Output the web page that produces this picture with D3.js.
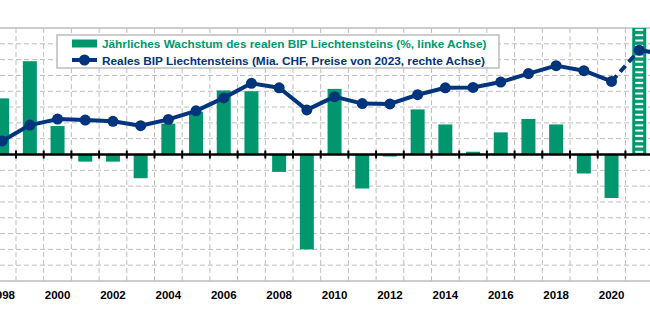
<!DOCTYPE html>
<html>
<head>
<meta charset="utf-8">
<script src="https://cdn.jsdelivr.net/npm/d3@7"></script>
<style>
  body { margin: 0; background: #fff; }
  svg { display: block; font-family: "Liberation Sans", Arial, sans-serif; }
</style>
</head>
<body>
<svg id="chart" width="650" height="325"></svg>
<script>
// annual growth (%, left axis) and real GDP (bn CHF, 2023 prices, right axis)
const years = d3.range(1998, 2023);
const growth = [7.1, 11.8, 3.6, -0.9, -0.9, -3.0, 3.9, 5.4, 8.1, 8.0, -2.2, -12.0, 8.3, -4.3, -0.25,
                5.7, 3.8, 0.35, 2.8, 4.5, 3.8, -2.4, -5.5, 18.6];
const gdp = [4.43, 4.93, 5.12, 5.09, 5.05, 4.91, 5.11, 5.38, 5.79, 6.25, 6.11, 5.41, 5.83, 5.61, 5.60,
             5.89, 6.11, 6.12, 6.29, 6.56, 6.81, 6.65, 6.31, 7.30, 7.16];
const yearLabels = d3.range(1998, 2021, 2);
const legendLabels = ["Jährliches Wachstum des realen BIP Liechtensteins (%, linke Achse)",
                      "Reales BIP Liechtensteins (Mia. CHF, Preise von 2023, rechte Achse)"];

const green = "#00976f", navy = "#00347c", grid = "#bdbdbd";
const plotTop = 28, plotBottom = 281;

var svg = d3.select("#chart");
var x = d3.scaleLinear().domain([1998, 2021]).range([2.15, 639.25]);
var step = x(1999) - x(1998), barW = 14;
var yL = d3.scaleLinear().domain([-16, 16]).range([plotBottom, plotTop]);
var yR = d3.scaleLinear().domain([0, 8]).range([plotBottom, plotTop]);

svg.append("clipPath").attr("id", "plotclip")
  .append("rect").attr("x", 0).attr("y", plotTop).attr("width", 650).attr("height", plotBottom - plotTop);

// hatch fill for the last (provisional) year
var lastX = x(2021) - barW / 2;
var pat = svg.append("defs").append("pattern").attr("id", "hatch")
  .attr("patternUnits", "userSpaceOnUse").attr("x", lastX).attr("y", yL(0))
  .attr("width", barW).attr("height", 5.3);
pat.append("rect").attr("width", barW).attr("height", 5.3).attr("fill", green);
pat.append("rect").attr("x", 3).attr("y", 1.6).attr("width", barW - 6).attr("height", 2).attr("fill", "#fff");

//------------- grid
var g = svg.append("g");
g.selectAll(".hgrid").data(d3.range(-14, 16, 2).filter(d => d != 0)).join("line")
  .attr("x1", 0).attr("x2", 650).attr("y1", d => yL(d)).attr("y2", d => yL(d))
  .attr("stroke", grid).attr("stroke-dasharray", "5,3");
g.selectAll(".vgrid").data(years).join("line")
  .attr("x1", d => x(d) - step / 2).attr("x2", d => x(d) - step / 2)
  .attr("y1", plotTop).attr("y2", plotBottom)
  .attr("stroke", grid).attr("stroke-dasharray", "5,3");
g.selectAll(".border").data([plotTop, plotBottom]).join("line")
  .attr("x1", 0).attr("x2", 650).attr("y1", d => d).attr("y2", d => d)
  .attr("stroke", grid).attr("stroke-width", 1.5);

//------------- bars
var bars = svg.append("g").attr("clip-path", "url(#plotclip)");
bars.selectAll("rect").data(growth).join("rect")
  .attr("x", (d, i) => x(years[i]) - barW / 2)
  .attr("width", barW)
  .attr("y", d => yL(Math.max(0, d)))
  .attr("height", d => Math.abs(yL(d) - yL(0)))
  .attr("fill", (d, i) => years[i] == 2021 ? "url(#hatch)" : green);

//------------- zero line with ticks
svg.append("line").attr("x1", 0).attr("x2", 650).attr("y1", yL(0)).attr("y2", yL(0))
  .attr("stroke", "#000").attr("stroke-width", 2.5);
svg.selectAll(".tick0").data(years).join("line")
  .attr("x1", d => x(d) - step / 2).attr("x2", d => x(d) - step / 2)
  .attr("y1", yL(0) - 4).attr("y2", yL(0) + 4)
  .attr("stroke", "#000").attr("stroke-width", 2);

//------------- year labels
svg.selectAll(".ylab").data(yearLabels).join("text")
  .attr("x", d => x(d)).attr("y", 299).attr("text-anchor", "middle")
  .attr("font-size", 11.5).attr("font-weight", "bold").attr("fill", "#000")
  .text(d => d);

//------------- legend
var lg = svg.append("g");
lg.append("rect").attr("x", 57).attr("y", 35).attr("width", 442).attr("height", 33)
  .attr("fill", "#fff").attr("stroke", grid).attr("stroke-width", 1.5);
lg.append("rect").attr("x", 72).attr("y", 39.5).attr("width", 25).attr("height", 8).attr("fill", green);
lg.append("line").attr("x1", 72).attr("x2", 97).attr("y1", 60).attr("y2", 60)
  .attr("stroke", navy).attr("stroke-width", 4);
lg.append("circle").attr("cx", 84.5).attr("cy", 60).attr("r", 5.5).attr("fill", navy);
lg.selectAll("text").data(legendLabels).join("text")
  .attr("x", 102).attr("y", (d, i) => 47.5 + i * 17.5)
  .attr("font-size", 11.8).attr("font-weight", "bold")
  .attr("fill", (d, i) => i == 0 ? green : navy)
  .text(d => d);

//------------- GDP line
var pts = gdp.map((v, i) => [x(years[i]), yR(v)]);
var line = d3.line();
var lg2 = svg.append("g");
lg2.append("path").attr("d", line(pts.slice(0, 23))).attr("fill", "none")
  .attr("stroke", navy).attr("stroke-width", 4).attr("stroke-linejoin", "round");
lg2.append("path").attr("d", line(pts.slice(22, 24))).attr("fill", "none")
  .attr("stroke", navy).attr("stroke-width", 4).attr("stroke-dasharray", "8,5");
lg2.append("path").attr("d", line(pts.slice(23))).attr("fill", "none")
  .attr("stroke", navy).attr("stroke-width", 4);
lg2.selectAll("circle").data(pts.slice(0, 24)).join("circle")
  .attr("cx", d => d[0]).attr("cy", d => d[1]).attr("r", 5.5).attr("fill", navy);
</script>
</body>
</html>
